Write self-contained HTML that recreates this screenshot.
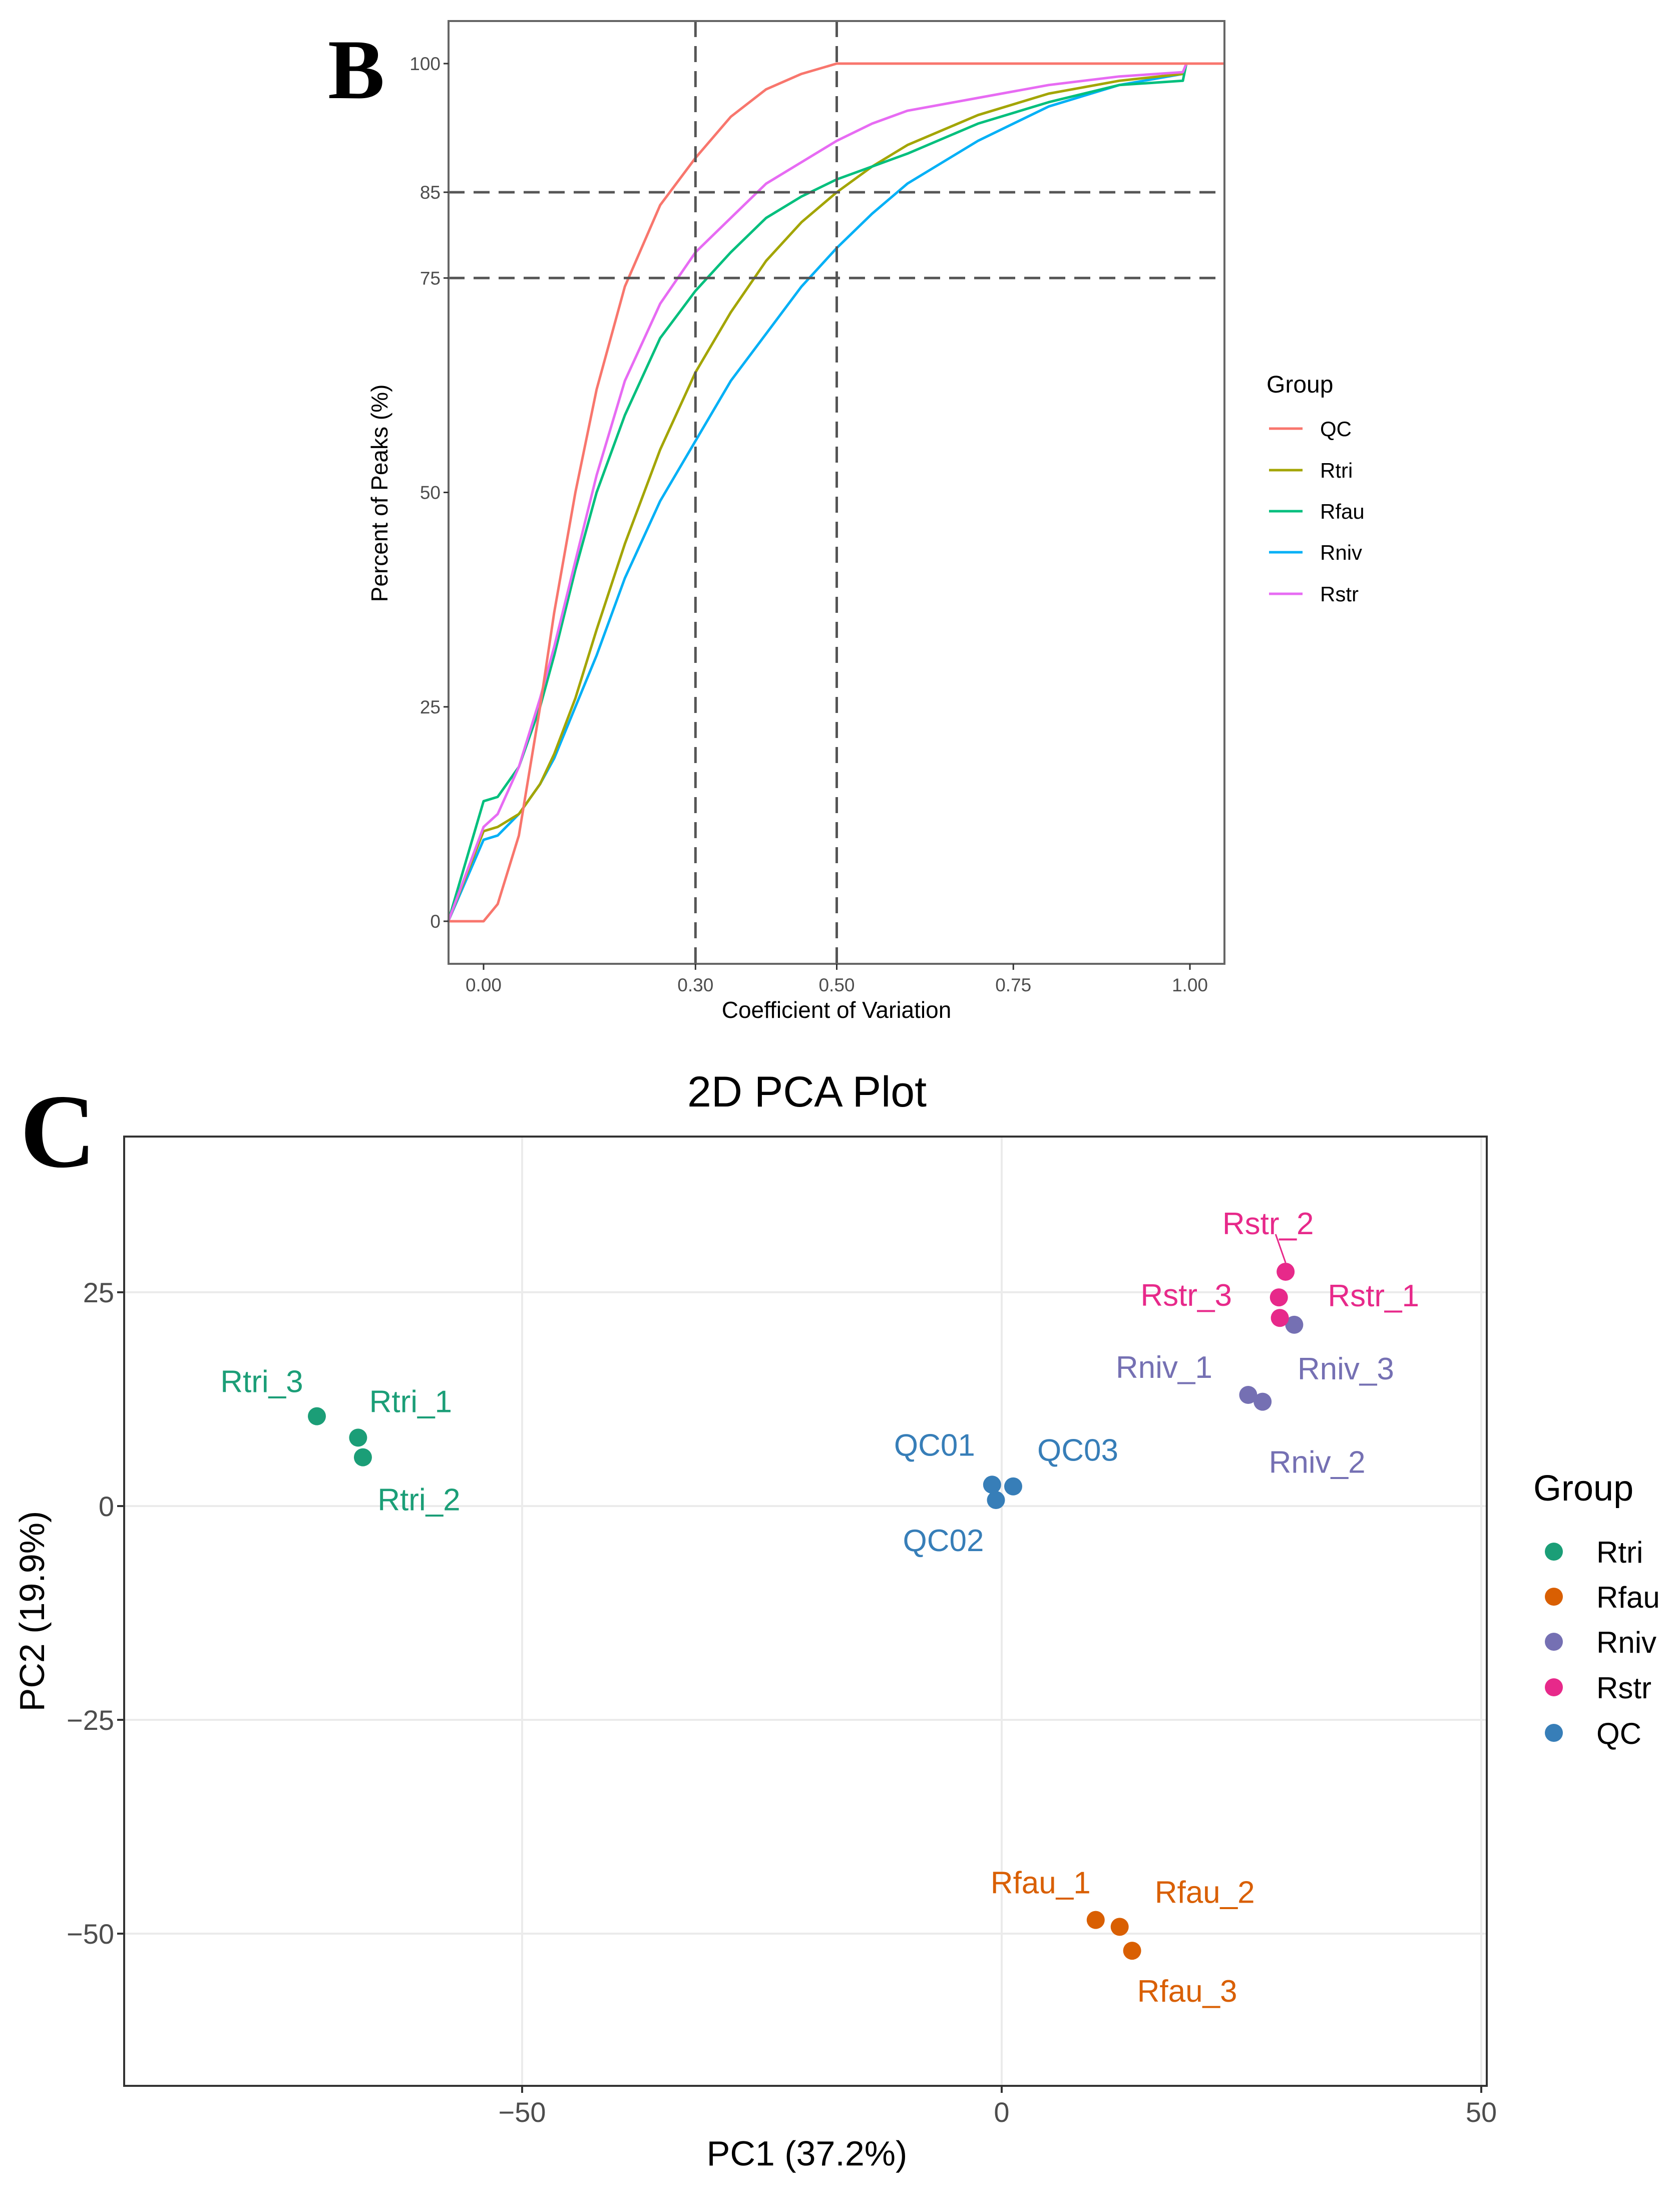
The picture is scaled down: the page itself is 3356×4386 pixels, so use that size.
<!DOCTYPE html>
<html><head><meta charset="utf-8"><style>html,body{margin:0;padding:0;background:#fff}svg{display:block}text{font-family:"Liberation Sans",sans-serif}</style></head>
<body>
<svg id="fig" xmlns="http://www.w3.org/2000/svg" width="3356" height="4386" viewBox="0 0 3356 4386">
<rect width="3356" height="4386" fill="#fff"/>
<g id="panelB"></g>
<g id="panelC"></g>
</svg>
<script>
// ---------- Panel B data ----------
const cvX = [-0.05,0,0.02,0.05,0.08,0.10,0.13,0.16,0.20,0.25,0.30,0.35,0.40,0.45,0.50,0.55,0.60,0.70,0.80,0.90,0.99,0.995,1.05];
const qcY   = [0,0,2,10,25,36,50,62,74,83.5,89,93.8,97,98.8,100,100,100,100,100,100,100,100,100];
const rtriY = [0,10.5,11,12.5,16,19.5,26,34,44,55,64,71,77,81.5,85,88,90.5,94,96.5,98,98.8,100,100];
const rfauY = [0,14,14.5,18,25,31,41,50,59,68,73.5,78,82,84.5,86.5,88,89.5,93,95.5,97.5,98,100,100];
const rnivY = [0,9.5,10,12.5,16,19,25,31,40,49,56,63,68.5,74,78.5,82.5,86,91,95,97.5,98.8,100,100];
const rstrY = [0,11,12.5,18,26,32,42,52,63,72,78,82,86,88.5,91,93,94.5,96,97.5,98.5,99,100,100];
const cvGroups = ["QC","Rtri","Rfau","Rniv","Rstr"];
const cvTicksX = [0,0.30,0.50,0.75,1.00];
const cvTickLabelsX = ["0.00","0.30","0.50","0.75","1.00"];
const cvTicksY = [0,25,50,75,85,100];
const cvRefX = [0.30,0.50];
const cvRefY = [75,85];

// ---------- Panel C data ----------
const pcaNames = ["Rtri_1","Rtri_2","Rtri_3","Rfau_1","Rfau_2","Rfau_3","Rniv_1","Rniv_2","Rniv_3","Rstr_1","Rstr_2","Rstr_3","QC01","QC02","QC03"];
const pcaGroup = ["Rtri","Rtri","Rtri","Rfau","Rfau","Rfau","Rniv","Rniv","Rniv","Rstr","Rstr","Rstr","QC","QC","QC"];
const pc1 = [-67.1,-66.6,-71.4,9.8,12.3,13.6,25.7,27.2,30.5,29.0,29.6,28.9,-1.0,-0.6,1.2];
const pc2 = [8.0,5.7,10.5,-48.4,-49.2,-52.0,13.0,12.2,21.2,22.0,27.4,24.4,2.5,0.7,2.3];
const pcaLegend = ["Rtri","Rfau","Rniv","Rstr","QC"];
const pcTicksX = [-50,0,50];
const pcTicksY = [25,0,-25,-50];

const NS="http://www.w3.org/2000/svg";
function mk(parent,tag,attrs,txt){const e=document.createElementNS(NS,tag);for(const k in attrs)e.setAttribute(k,attrs[k]);if(txt!==undefined)e.textContent=txt;parent.appendChild(e);return e;}

// ===== Panel B =====
(function(){
const g=document.getElementById('panelB');
const L=896,R=2446,T=42,B=1925;
const xs=v=>966+(v-0)*1411;
const ys=v=>1840-v*17.13;
const cols={QC:"#F8766D",Rtri:"#A3A500",Rfau:"#00BF7D",Rniv:"#00B0F6",Rstr:"#E76BF3"};
const series={QC:qcY,Rtri:rtriY,Rfau:rfauY,Rniv:rnivY,Rstr:rstrY};
let t=mk(g,'text',{x:655,y:196,'font-size':170,'font-weight':'bold',style:'font-family:"Liberation Serif",serif',fill:'#000'},'B');

const order=["Rniv","Rtri","Rfau","Rstr","QC"];
order.forEach(k=>{const ys_=series[k];let d='';cvX.forEach((x,i)=>{d+=(i?'L':'M')+xs(x).toFixed(1)+','+ys(ys_[i]).toFixed(1);});
 const p=mk(g,'path',{d:d,fill:'none',stroke:cols[k],'stroke-width':5,'stroke-linejoin':'round'});
 });
cvRefX.forEach(v=>{const l=mk(g,'line',{x1:xs(v),x2:xs(v),y1:T,y2:B,stroke:'#555','stroke-width':5,'stroke-dasharray':'32,18'});
 });
cvRefY.forEach(v=>{const l=mk(g,'line',{x1:L,x2:R,y1:ys(v),y2:ys(v),stroke:'#555','stroke-width':5,'stroke-dasharray':'32,18'});
 });
const box=mk(g,'rect',{x:L,y:T,width:R-L,height:B-T,fill:'none',stroke:'#666','stroke-width':4});

cvTicksX.forEach((v,i)=>{mk(g,'line',{x1:xs(v),x2:xs(v),y1:B,y2:B+12,stroke:'#333','stroke-width':3});
 const tl=mk(g,'text',{x:xs(v),y:1980,'font-size':37,fill:'#4d4d4d','text-anchor':'middle'},cvTickLabelsX[i]);
 });
cvTicksY.forEach(v=>{mk(g,'line',{x1:L-10,x2:L,y1:ys(v),y2:ys(v),stroke:'#333','stroke-width':3});
 const tl=mk(g,'text',{x:L-16,y:ys(v)+13,'font-size':37,fill:'#4d4d4d','text-anchor':'end'},String(v));
 });
t=mk(g,'text',{x:1671,y:2033,'font-size':46,fill:'#000','text-anchor':'middle'},'Coefficient of Variation');

t=mk(g,'text',{x:0,y:0,'font-size':46,fill:'#000','text-anchor':'middle',transform:'translate(774,985) rotate(-90)'},'Percent of Peaks (%)');

t=mk(g,'text',{x:2530,y:784,'font-size':48,fill:'#000'},'Group');

const ly=[856,939,1021,1103,1186];
cvGroups.forEach((k,i)=>{const e=mk(g,'g',{});
 mk(e,'line',{x1:2535,x2:2602,y1:ly[i],y2:ly[i],stroke:cols[k],'stroke-width':5});
 mk(e,'text',{x:2637,y:ly[i]+15,'font-size':42,fill:'#000'},k);});
})();

// ===== Panel C =====
(function(){
const g=document.getElementById('panelC');
const L=248,R=2970,T=2270,B=4166;
const xs=v=>2001+v*19.16;
const ys=v=>3008-v*17.08;
const cols={Rtri:"#1b9e77",Rfau:"#d95f02",Rniv:"#7570b3",Rstr:"#e7298a",QC:"#377eb8"};
let t=mk(g,'text',{x:40,y:2330,'font-size':210,'font-weight':'bold',style:'font-family:"Liberation Serif",serif',fill:'#000'},'C');

t=mk(g,'text',{x:1612,y:2210,'font-size':86,fill:'#000','text-anchor':'middle'},'2D PCA Plot');

pcTicksX.forEach(v=>{const l=mk(g,'line',{x1:xs(v),x2:xs(v),y1:T,y2:B,stroke:'#ebebeb','stroke-width':4});});
pcTicksY.forEach(v=>{const l=mk(g,'line',{x1:L,x2:R,y1:ys(v),y2:ys(v),stroke:'#ebebeb','stroke-width':4});});
const off={Rtri_1:[105,-73],Rtri_2:[112,84],Rtri_3:[-110,-70],Rfau_1:[-110,-75],Rfau_2:[170,-70],Rfau_3:[110,80],
 Rniv_1:[-168,-56],Rniv_3:[103,87],Rniv_2:[109,84+8],Rstr_1:[187,-45],Rstr_2:[-35,-97],Rstr_3:[-185,-5],
 QC01:[-115,-80],QC02:[-105,80],QC03:[129,-73]};
// Rniv_2 sits below Rniv_3's label row
off.Rniv_2=[109,120];
const si=pcaNames.indexOf('Rstr_2');
const cl=mk(g,'line',{x1:xs(pc1[si]),y1:ys(pc2[si])-18,x2:xs(pc1[si])-20,y2:ys(pc2[si])-75,stroke:cols.Rstr,'stroke-width':3});

pcaNames.forEach((n,i)=>{const c=mk(g,'circle',{cx:xs(pc1[i]),cy:ys(pc2[i]),r:18,fill:cols[pcaGroup[i]]});
 });
pcaNames.forEach((n,i)=>{const o=off[n];const tl=mk(g,'text',{x:xs(pc1[i])+o[0],y:ys(pc2[i])+o[1]+22,'font-size':62,fill:cols[pcaGroup[i]],'text-anchor':'middle'},n);
 });
const box=mk(g,'rect',{x:L,y:T,width:R-L,height:B-T,fill:'none',stroke:'#333','stroke-width':4});

pcTicksX.forEach(v=>{mk(g,'line',{x1:xs(v),x2:xs(v),y1:B,y2:B+14,stroke:'#333','stroke-width':4});
 const tl=mk(g,'text',{x:xs(v),y:B+72,'font-size':56,fill:'#4d4d4d','text-anchor':'middle'},v<0?'\u2212'+(-v):String(v));
 });
pcTicksY.forEach(v=>{mk(g,'line',{x1:L-14,x2:L,y1:ys(v),y2:ys(v),stroke:'#333','stroke-width':4});
 const tl=mk(g,'text',{x:L-20,y:ys(v)+20,'font-size':56,fill:'#4d4d4d','text-anchor':'end'},v<0?'\u2212'+(-v):String(v));
 });
t=mk(g,'text',{x:1612,y:4325,'font-size':70,fill:'#000','text-anchor':'middle'},'PC1 (37.2%)');

t=mk(g,'text',{x:0,y:0,'font-size':70,fill:'#000','text-anchor':'middle',transform:'translate(88,3218) rotate(-90)'},'PC2 (19.9%)');

t=mk(g,'text',{x:3063,y:2997,'font-size':72,fill:'#000'},'Group');

const ly=[3099,3189,3279,3370,3461];
pcaLegend.forEach((k,i)=>{const e=mk(g,'g',{});
 mk(e,'circle',{cx:3104,cy:ly[i],r:18,fill:cols[k]});
 mk(e,'text',{x:3189,y:ly[i]+22,'font-size':60,fill:'#000'},k);});
})();
</script>
</body></html>
